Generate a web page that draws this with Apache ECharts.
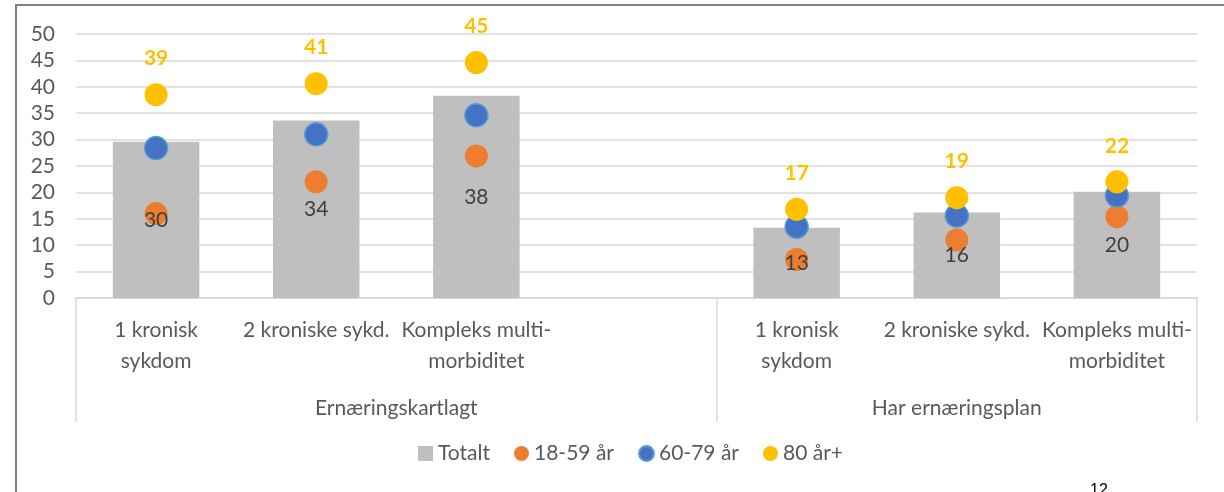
<!DOCTYPE html>
<html>
<head>
<meta charset="utf-8">
<script src="https://cdn.jsdelivr.net/npm/echarts@6/dist/echarts.min.js"></script>
<style>
html,body{margin:0;padding:0;background:#fff;}
#chart{width:1224px;height:492px;}
</style>
</head>
<body>
<div id="chart"></div>
<script>
const categories = ['1 kronisk\nsykdom', '2 kroniske sykd.', 'Kompleks multi-\nmorbiditet', '', '1 kronisk\nsykdom', '2 kroniske sykd.', 'Kompleks multi-\nmorbiditet'];
const groupLabels = ['Ernæringskartlagt', 'Har ernæringsplan'];
const yTicks = [0, 5, 10, 15, 20, 25, 30, 35, 40, 45, 50];
const totalt = [29.6, 33.6, 38.3, null, 13.3, 16.2, 20.1];
const age18_59 = [16.0, 22.0, 26.9, null, 7.3, 11.0, 15.4];
const age60_79 = [28.4, 31.0, 34.6, null, 13.5, 15.6, 19.4];
const age80 = [38.5, 40.6, 44.6, null, 16.8, 19.0, 22.0];
const seriesNames = ['Totalt', '18-59 år', '60-79 år', '80 år+'];

const FONT = 'Lato';
const FS = 21;
// group axis: 15 half-slot points; group labels at centre of each group
const groupAxisData = new Array(15).fill('');
groupAxisData[4] = groupLabels[0];
groupAxisData[11] = groupLabels[1];

const roundFmt = p => p.value == null ? '' : String(Math.round(p.value));

const chart = echarts.init(document.getElementById('chart'), null, {renderer: 'canvas'});
const scatterBase = {
  type: 'scatter',
  symbol: 'circle',
  symbolSize: 23,
  xAxisIndex: 0,
  z: 3
};
chart.setOption({
  animation: false,
  textStyle: {fontFamily: FONT},
  grid: {left: 76, right: 27, top: 34, bottom: 194, containLabel: false},
  legend: {
    bottom: 23,
    left: 413,
    itemWidth: 15,
    itemHeight: 15,
    itemGap: 24,
    textStyle: {fontFamily: FONT, fontSize: FS, color: '#595959'},
    data: [
      {name: seriesNames[0], icon: 'rect'},
      {name: seriesNames[1], icon: 'circle'},
      {name: seriesNames[2], icon: 'circle'},
      {name: seriesNames[3], icon: 'circle'}
    ]
  },
  xAxis: [
    {
      type: 'category',
      data: categories,
      position: 'bottom',
      axisLine: {show: true, lineStyle: {color: '#d9d9d9', width: 1.5}},
      axisTick: {show: false},
      axisLabel: {
        interval: 0,
        margin: 17,
        fontFamily: FONT,
        fontSize: FS,
        lineHeight: 31,
        color: '#595959',
        align: 'center'
      }
    },
    {
      type: 'category',
      data: groupAxisData,
      boundaryGap: false,
      position: 'bottom',
      axisLine: {show: true, lineStyle: {color: '#d9d9d9', width: 1.5}},
      axisTick: {
        show: true,
        length: 124,
        interval: function (i) { return i === 0 || i === 8 || i === 14; },
        lineStyle: {color: '#d9d9d9', width: 1.5}
      },
      axisLabel: {
        interval: 0,
        margin: 100,
        fontFamily: FONT,
        fontSize: FS,
        color: '#595959'
      },
      splitLine: {show: false}
    }
  ],
  yAxis: {
    type: 'value',
    min: yTicks[0],
    max: yTicks[yTicks.length - 1],
    interval: yTicks[1] - yTicks[0],
    axisLine: {show: false},
    axisTick: {show: false},
    axisLabel: {margin: 21, fontFamily: FONT, fontSize: FS, color: '#595959'},
    splitLine: {lineStyle: {color: '#d9d9d9', width: 1.5}}
  },
  series: [
    {
      name: seriesNames[0],
      type: 'bar',
      data: totalt,
      barWidth: '54%',
      barGap: '-100%',
      itemStyle: {color: '#bfbfbf'},
      z: 2
    },
    Object.assign({}, scatterBase, {
      name: seriesNames[1],
      data: age18_59,
      itemStyle: {color: '#ed7d31', opacity: 1}
    }),
    Object.assign({}, scatterBase, {
      name: seriesNames[2],
      data: age60_79,
      itemStyle: {color: '#4472c4', borderColor: '#5b9bd5', borderWidth: 1.5, opacity: 1}
    }),
    Object.assign({}, scatterBase, {
      name: seriesNames[3],
      data: age80,
      itemStyle: {color: '#ffc000', opacity: 1},
      label: {
        show: true,
        position: 'top',
        distance: 14,
        fontFamily: FONT,
        fontSize: FS,
        fontWeight: 'bold',
        color: '#ffc000',
        formatter: roundFmt
      }
    }),
    {
      // transparent overlay carrying the Totalt data labels, drawn above the dots
      name: 'Totalt (etikett)',
      type: 'bar',
      data: totalt,
      barWidth: '54%',
      barGap: '-100%',
      itemStyle: {color: 'rgba(0,0,0,0)'},
      silent: true,
      z: 10,
      label: {
        show: true,
        position: 'inside',
        fontFamily: FONT,
        fontSize: FS,
        color: '#404040',
        formatter: roundFmt
      },
      labelLayout: {moveOverlap: false}
    }
  ],
  graphic: [
    {
      type: 'polyline',
      silent: true,
      shape: {points: [[16, 600], [16, 5], [1300, 5]]},
      style: {stroke: '#808080', lineWidth: 2, fill: null}
    },
    {
      type: 'text',
      silent: true,
      left: 1090,
      top: 483,
      style: {text: '12', fontFamily: 'Liberation Sans', fontSize: 16, fill: '#000'}
    }
  ]
});
</script>
</body>
</html>
